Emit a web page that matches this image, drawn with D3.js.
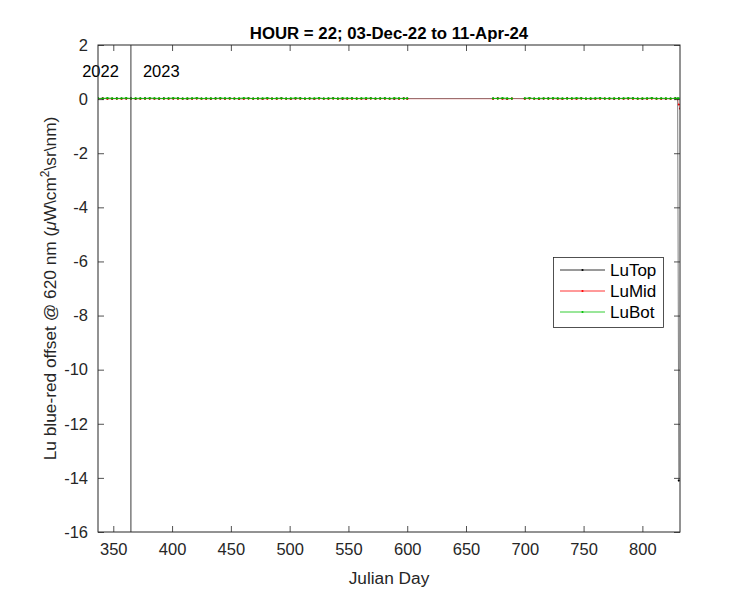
<!DOCTYPE html>
<html><head><meta charset="utf-8">
<script src="https://cdn.jsdelivr.net/npm/d3@7"></script>
<style>body{margin:0;background:#fff;}svg{display:block;font-family:"Liberation Sans",Arial,sans-serif;}</style>
</head><body><div id="chart"></div>
<script>
const titleText = "HOUR = 22; 03-Dec-22 to 11-Apr-24";
const xLabel = "Julian Day";
const xTicks = [350,400,450,500,550,600,650,700,750,800];
const yTicks = [-16,-14,-12,-10,-8,-6,-4,-2,0,2];
const yearMarks = [{day:365, left:"2022", right:"2023"}];
const seriesNames = ["LuTop","LuMid","LuBot"];
const seriesColors = ["#000000","#ff0000","#00c000"];

const days = [337,341,345,349,353,357,361,365,369,373,377,381,385,389,393,397,401,405,409,413,417,421,425,429,433,437,441,445,449,453,457,461,465,469,473,477,481,485,489,493,497,501,505,509,513,517,521,525,529,533,537,541,545,549,553,557,561,565,569,573,577,581,585,589,593,597,600,
673,677,681,685,689,
700,704,708,712,716,720,724,728,732,736,740,744,748,752,756,760,764,768,772,776,780,784,788,792,796,800,804,808,812,816,820,824,828,830,831,832];

const luTop = [0.02,0.03,0.02,0.01,0.03,0.02,0.02,0.03,0.01,0.02,0.03,0.02,0.02,0.01,0.03,0.02,0.02,0.03,0.02,0.01,0.02,0.03,0.02,0.02,0.01,0.03,0.02,0.02,0.03,0.02,0.01,0.02,0.03,0.02,0.02,0.01,0.03,0.02,0.02,0.03,0.02,0.01,0.02,0.03,0.02,0.02,0.01,0.03,0.02,0.02,0.03,0.02,0.01,0.02,0.03,0.02,0.02,0.01,0.03,0.02,0.02,0.03,0.02,0.01,0.02,0.03,0.02,
0.02,0.03,0.02,0.01,0.02,
0.02,0.03,0.02,0.01,0.02,0.03,0.02,0.02,0.01,0.03,0.02,0.02,0.03,0.02,0.01,0.02,0.03,0.02,0.02,0.01,0.03,0.02,0.02,0.03,0.02,0.01,0.02,0.03,0.02,0.02,0.01,0.02,0.03,0.02,-14.1,null];

const luMid = [0.01,0.02,0.01,0.02,0.01,0.01,0.02,0.01,0.02,0.01,0.01,0.02,0.01,0.02,0.01,0.01,0.02,0.01,0.01,0.02,0.01,0.02,0.01,0.01,0.02,0.01,0.02,0.01,0.01,0.02,0.01,0.01,0.02,0.01,0.02,0.01,0.01,0.02,0.01,0.02,0.01,0.01,0.02,0.01,0.01,0.02,0.01,0.02,0.01,0.01,0.02,0.01,0.02,0.01,0.01,0.02,0.01,0.01,0.02,0.01,0.02,0.01,0.01,0.02,0.01,0.02,0.01,
0.01,0.02,0.01,0.01,0.02,
0.01,0.02,0.01,0.01,0.02,0.01,0.02,0.01,0.01,0.02,0.01,0.01,0.02,0.01,0.02,0.01,0.01,0.02,0.01,0.02,0.01,0.01,0.02,0.01,0.01,0.02,0.01,0.02,0.01,0.01,0.02,0.01,0.02,0.0,-0.2,-0.35];

const luBot = [0.03,0.02,0.04,0.03,0.02,0.03,0.04,0.02,0.03,0.03,0.02,0.04,0.03,0.03,0.02,0.03,0.04,0.03,0.02,0.03,0.03,0.04,0.02,0.03,0.03,0.02,0.04,0.03,0.03,0.02,0.03,0.04,0.03,0.02,0.03,0.03,0.04,0.02,0.03,0.03,0.02,0.03,0.04,0.03,0.02,0.03,0.03,0.04,0.02,0.03,0.03,0.02,0.04,0.03,0.03,0.02,0.03,0.04,0.03,0.02,0.03,0.03,0.02,0.04,0.03,0.02,0.03,
0.03,0.02,0.04,0.03,0.02,
0.03,0.04,0.02,0.03,0.03,0.02,0.04,0.03,0.03,0.02,0.03,0.04,0.03,0.02,0.03,0.03,0.04,0.02,0.03,0.03,0.02,0.03,0.04,0.03,0.02,0.03,0.03,0.04,0.02,0.03,0.03,0.02,0.03,0.02,0.03,null];

// data gaps longer than this (days) are drawn unconnected for LuBot
const maxGap = 10;

const W = 750, H = 600;
const m = {left:98, right:680, top:45, bottom:532};
const axisColor = "#262626";
const fTick = 16.5, fLabel = 17.3, fTitle = 16.8, fLegend = 17;

const svg = d3.select("#chart").append("svg").attr("width",W).attr("height",H);
svg.append("rect").attr("width",W).attr("height",H).attr("fill","#fff");

const x = d3.scaleLinear().domain([337,832]).range([m.left,m.right]);
const y = d3.scaleLinear().domain([-16,2]).range([m.bottom,m.top]);

svg.append("clipPath").attr("id","plotclip").append("rect")
  .attr("x",m.left).attr("y",m.top).attr("width",m.right-m.left).attr("height",m.bottom-m.top);
const plot = svg.append("g").attr("clip-path","url(#plotclip)");

const allSeries = [luTop, luMid, luBot];
allSeries.forEach((vals,i)=>{
  let pts = [];
  days.forEach((d,k)=>{
    if (i===2 && k>0 && d-days[k-1] > maxGap) pts.push({d:(d+days[k-1])/2, v:null});
    pts.push({d, v: vals[k]});
  });
  const line = d3.line().defined(p=>p.v!==null).x(p=>x(p.d)).y(p=>y(p.v));
  plot.append("path").datum(pts).attr("fill","none")
    .attr("stroke",seriesColors[i]).attr("stroke-width",i===2?0.8:0.5)
    .attr("stroke-opacity", i===1?0.55:1).attr("d",line);
  plot.selectAll(null).data(pts.filter(p=>p.v!==null)).enter().append("circle")
    .attr("cx",p=>x(p.d)).attr("cy",p=>y(p.v)).attr("r",1.1).attr("fill",seriesColors[i]);
});

yearMarks.forEach(ym=>{
  plot.append("line").attr("x1",x(ym.day)).attr("x2",x(ym.day))
    .attr("y1",m.top).attr("y2",m.bottom).attr("stroke","#3a3a3a").attr("stroke-width",1);
  svg.append("text").attr("x",x(ym.day)-12).attr("y",77).attr("text-anchor","end")
    .attr("font-size",16.5).attr("fill","#000").text(ym.left);
  svg.append("text").attr("x",x(ym.day)+12).attr("y",77).attr("text-anchor","start")
    .attr("font-size",16.5).attr("fill","#000").text(ym.right);
});

const tickLen = 6;
const xAxisB = d3.axisBottom(x).tickValues(xTicks).tickSize(-tickLen).tickPadding(tickLen+5).tickFormat(d3.format("d"));
const xAxisT = d3.axisTop(x).tickValues(xTicks).tickSize(-tickLen).tickFormat("");
const yAxisL = d3.axisLeft(y).tickValues(yTicks).tickSize(-tickLen).tickPadding(tickLen+4).tickFormat(d=>d<0?"-"+Math.abs(d):d);
const yAxisR = d3.axisRight(y).tickValues(yTicks).tickSize(-tickLen).tickFormat("");

function style(g){
  g.select(".domain").remove();
  g.selectAll("line").attr("stroke",axisColor).attr("stroke-width",0.8);
  g.selectAll("text").attr("fill",axisColor).attr("font-size",fTick).attr("font-family","Liberation Sans, Arial, sans-serif");
}
svg.append("g").attr("transform",`translate(0,${m.bottom})`).call(xAxisB).call(style);
svg.append("g").attr("transform",`translate(0,${m.top})`).call(xAxisT).call(style);
svg.append("g").attr("transform",`translate(${m.left},0)`).call(yAxisL).call(style);
svg.append("g").attr("transform",`translate(${m.right},0)`).call(yAxisR).call(style);

svg.append("rect").attr("x",m.left).attr("y",m.top).attr("width",m.right-m.left).attr("height",m.bottom-m.top)
  .attr("fill","none").attr("stroke",axisColor).attr("stroke-width",1);

svg.append("text").attr("x",(m.left+m.right)/2).attr("y",39).attr("text-anchor","middle")
  .attr("font-size",fTitle).attr("font-weight","bold").attr("fill","#000").text(titleText);

svg.append("text").attr("x",(m.left+m.right)/2).attr("y",584).attr("text-anchor","middle")
  .attr("font-size",fLabel).attr("fill",axisColor).text(xLabel);

const yl = svg.append("text").attr("transform",`translate(56,${(m.top+m.bottom)/2}) rotate(-90)`)
  .attr("text-anchor","middle").attr("font-size",fLabel).attr("fill",axisColor);
yl.append("tspan").text("Lu blue-red offset @ 620 nm (");
yl.append("tspan").attr("font-style","italic").text("\u03bc");
yl.append("tspan").text("W\\cm");
yl.append("tspan").attr("font-size",12).attr("dy",-7).text("2");
yl.append("tspan").attr("dy",7).text("\\sr\\nm)");

const lg = svg.append("g");
lg.append("rect").attr("x",553.5).attr("y",257.5).attr("width",110).attr("height",70)
  .attr("fill","#fff").attr("stroke",axisColor).attr("stroke-width",0.8);
seriesNames.forEach((n,i)=>{
  const yy = 270 + i*21;
  lg.append("line").attr("x1",560).attr("x2",605).attr("y1",yy).attr("y2",yy)
    .attr("stroke",seriesColors[i]).attr("stroke-width",0.8);
  lg.append("circle").attr("cx",582.5).attr("cy",yy).attr("r",1.1).attr("fill",seriesColors[i]);
  lg.append("text").attr("x",610).attr("y",yy+6).attr("font-size",fLegend).attr("fill","#000").text(n);
});
</script></body></html>
